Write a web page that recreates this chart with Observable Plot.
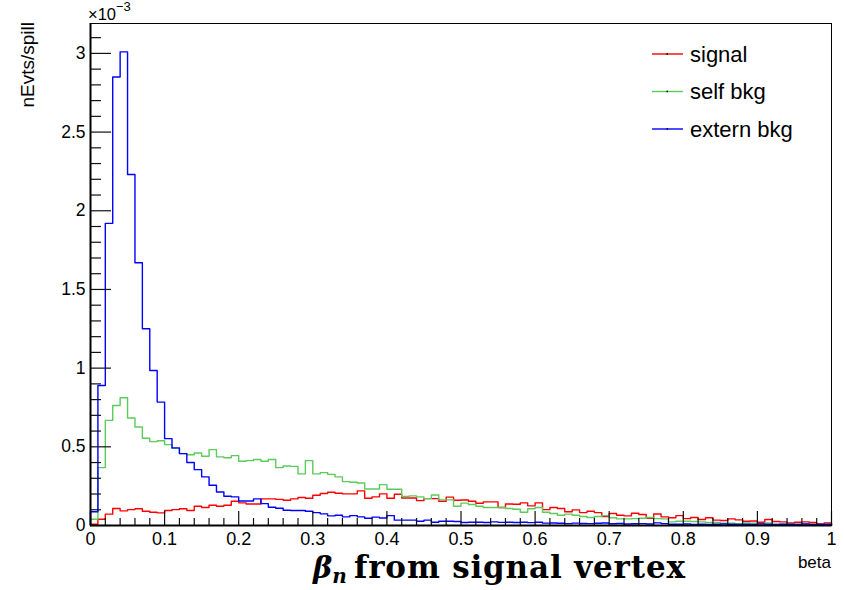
<!DOCTYPE html>
<html>
<head>
<meta charset="utf-8">
<script src="https://cdn.jsdelivr.net/npm/d3@7"></script>
<script src="https://cdn.jsdelivr.net/npm/@observablehq/plot@0.6"></script>
<style>
  html, body { margin: 0; padding: 0; background: #ffffff; }
  #chart { width: 844px; height: 590px; }
</style>
</head>
<body>
<div id="chart"></div>
<script>
// Histogram binning (as in the source histogram): 100 bins on [0, 1]
const nBins = 100, xMin = 0, xMax = 1;
// Values in units of 10^-3 nEvts/spill
const signal = [
  0.008,0.040,0.072,0.108,0.093,0.101,0.106,0.091,0.084,0.080,
  0.095,0.101,0.106,0.095,0.122,0.114,0.129,0.122,0.129,0.154,
  0.144,0.137,0.137,0.169,0.169,0.166,0.160,0.169,0.178,0.173,
  0.192,0.203,0.211,0.205,0.201,0.201,0.220,0.173,0.182,0.201,
  0.173,0.199,0.175,0.175,0.158,0.171,0.171,0.154,0.180,0.160,
  0.162,0.154,0.141,0.150,0.150,0.114,0.137,0.135,0.144,0.125,
  0.144,0.101,0.114,0.108,0.087,0.099,0.082,0.091,0.082,0.057,
  0.076,0.065,0.061,0.078,0.070,0.046,0.073,0.055,0.049,0.063,
  0.044,0.051,0.038,0.049,0.034,0.032,0.042,0.036,0.027,0.029,
  0.021,0.038,0.025,0.023,0.017,0.021,0.023,0.019,0.012,0.017];
const selfBkg = [
  0.040,0.368,0.668,0.763,0.812,0.683,0.626,0.554,0.533,0.539,
  0.514,0.490,0.457,0.450,0.461,0.440,0.482,0.436,0.431,0.444,
  0.408,0.412,0.419,0.408,0.419,0.368,0.378,0.376,0.328,0.412,
  0.328,0.336,0.325,0.309,0.279,0.275,0.270,0.232,0.232,0.260,
  0.230,0.230,0.184,0.188,0.182,0.171,0.194,0.163,0.163,0.122,
  0.142,0.133,0.122,0.114,0.114,0.114,0.108,0.103,0.084,0.106,
  0.114,0.084,0.076,0.065,0.072,0.065,0.057,0.051,0.057,0.063,
  0.049,0.042,0.042,0.044,0.046,0.051,0.044,0.042,0.023,0.027,
  0.027,0.025,0.023,0.019,0.019,0.015,0.015,0.012,0.017,0.015,
  0.012,0.017,0.006,0.008,0.010,0.008,0.010,0.008,0.006,0.004];
const externBkg = [
  0.087,0.890,1.920,2.850,3.010,2.230,1.670,1.250,0.985,0.784,
  0.552,0.493,0.457,0.400,0.355,0.309,0.256,0.213,0.186,0.182,
  0.156,0.156,0.169,0.139,0.116,0.110,0.097,0.095,0.095,0.091,
  0.082,0.074,0.061,0.065,0.055,0.063,0.055,0.046,0.053,0.048,
  0.063,0.034,0.034,0.034,0.027,0.034,0.021,0.027,0.027,0.025,
  0.019,0.021,0.021,0.019,0.023,0.020,0.021,0.019,0.021,0.018,
  0.021,0.015,0.016,0.014,0.012,0.015,0.013,0.012,0.014,0.016,
  0.011,0.013,0.010,0.011,0.012,0.010,0.017,0.012,0.008,0.008,
  0.010,0.006,0.008,0.006,0.008,0.010,0.008,0.006,0.008,0.006,
  0.010,0.008,0.006,0.008,0.008,0.006,0.010,0.006,0.006,0.008];

const seriesNames = ["signal", "self bkg", "extern bkg"];
const seriesColors = ["#ff0000", "#5bcb5b", "#0000ff"];
const xTickLabels = [0, 0.1, 0.2, 0.3, 0.4, 0.5, 0.6, 0.7, 0.8, 0.9, 1];
const yTickLabels = [0, 0.5, 1, 1.5, 2, 2.5, 3];
const yMax = 3.19;

// Build step-histogram rows (ROOT "HIST" outline)
function histRows(values, name) {
  const w = (xMax - xMin) / nBins;
  const rows = [{x: xMin, y: 0, s: name}];
  values.forEach((v, i) => rows.push({x: xMin + i * w, y: v, s: name}));
  rows.push({x: xMax, y: values[values.length - 1], s: name});
  rows.push({x: xMax, y: 0, s: name});
  return rows;
}
const rows = [
  ...histRows(signal, seriesNames[0]),
  ...histRows(selfBkg, seriesNames[1]),
  ...histRows(externBkg, seriesNames[2])
];

const W = 844, H = 590;
const mL = 90, mR = 13, mT = 23, mB = 65;
const plotW = W - mL - mR, plotH = H - mT - mB;

const xMinor = d3.range(0, 51).map(i => i * 0.02).filter(v => Math.abs(v * 10 - Math.round(v * 10)) > 1e-6);
const yMinor = d3.range(0, 32).map(i => i * 0.1).filter(v => Math.abs(v * 2 - Math.round(v * 2)) > 1e-6);

const svg = Plot.plot({
  width: W, height: H,
  marginLeft: mL, marginRight: mR, marginTop: mT, marginBottom: mB,
  style: {background: "#ffffff", color: "#000000", fontFamily: "'Liberation Sans', Arial, Helvetica, sans-serif"},
  x: {domain: [xMin, xMax]},
  y: {domain: [0, yMax]},
  color: {domain: seriesNames, range: seriesColors},
  marks: [
    Plot.line(rows, {x: "x", y: "y", z: "s", stroke: "s", curve: "step-after", strokeWidth: 1.4}),
    // inward ticks (ROOT style)
    Plot.ruleX(xTickLabels, {stroke: "#111", strokeWidth: 1.2, insetTop: plotH - 14}),
    Plot.ruleX(xMinor, {stroke: "#111", strokeWidth: 1.2, insetTop: plotH - 7}),
    Plot.ruleY(yTickLabels, {stroke: "#111", strokeWidth: 1.2, insetRight: plotW - 21}),
    Plot.ruleY(yMinor, {stroke: "#111", strokeWidth: 1.2, insetRight: plotW - 11}),
    Plot.frame({stroke: "#000", strokeWidth: 1}),
    Plot.ruleX([xMin], {stroke: "#000", strokeWidth: 2}),
    Plot.ruleY([0], {stroke: "#000", strokeWidth: 2}),
    Plot.axisX(xTickLabels, {tickSize: 0, tickPadding: 7, fontSize: 18, label: null, tickFormat: d => String(d)}),
    Plot.axisY(yTickLabels, {tickSize: 0, tickPadding: 5, fontSize: 17.5, label: null, tickFormat: d => String(d)})
  ]
});
document.getElementById("chart").appendChild(svg);

const s = d3.select(svg);
const sans = "'Liberation Sans', Arial, Helvetica, sans-serif";

// exponent label
const ex = s.append("text").attr("x", 88).attr("y", 20).attr("text-anchor", "start")
  .attr("font-family", sans).attr("font-size", 16.5).attr("fill", "#000");
ex.append("tspan").text("×10");
ex.append("tspan").attr("font-size", 13).attr("dy", -9).text("−3");

// y-axis title
s.append("text")
  .attr("transform", "translate(34,22) rotate(-90)")
  .attr("text-anchor", "end")
  .attr("font-family", sans).attr("font-size", 19).attr("fill", "#000")
  .text("nEvts/spill");

// x-axis small label
s.append("text").attr("x", 831).attr("y", 568).attr("text-anchor", "end")
  .attr("font-family", sans).attr("font-size", 17).attr("fill", "#000")
  .text("beta");

// x-axis big title
const serif = "'DejaVu Serif', 'Liberation Serif', serif";
const t1 = s.append("text").attr("x", 313).attr("y", 578).attr("text-anchor", "start")
  .attr("font-family", serif).attr("font-weight", "bold").attr("font-style", "italic")
  .attr("font-size", 29).attr("fill", "#000");
t1.append("tspan").text("β");
t1.append("tspan").attr("font-size", 20).attr("dy", 5).text("n");
s.append("text").attr("x", 354).attr("y", 578).attr("text-anchor", "start")
  .attr("font-family", serif).attr("font-weight", "bold")
  .attr("font-size", 31).attr("fill", "#000")
  .attr("textLength", 331).attr("lengthAdjust", "spacing")
  .text("from signal vertex");

// legend
const leg = s.append("g");
seriesNames.forEach((name, i) => {
  const y = 54 + i * 37.5;
  leg.append("line").attr("x1", 652).attr("x2", 683).attr("y1", y).attr("y2", y)
    .attr("stroke", seriesColors[i]).attr("stroke-width", 1.4);
  leg.append("rect").attr("x", 666.5).attr("y", y - 0.75).attr("width", 1.5).attr("height", 1.5).attr("fill", "#000");
  leg.append("text").attr("x", 690).attr("y", y + 7.5).attr("text-anchor", "start")
    .attr("font-family", sans).attr("font-size", 22).attr("fill", "#000").text(name);
});
</script>
</body>
</html>
